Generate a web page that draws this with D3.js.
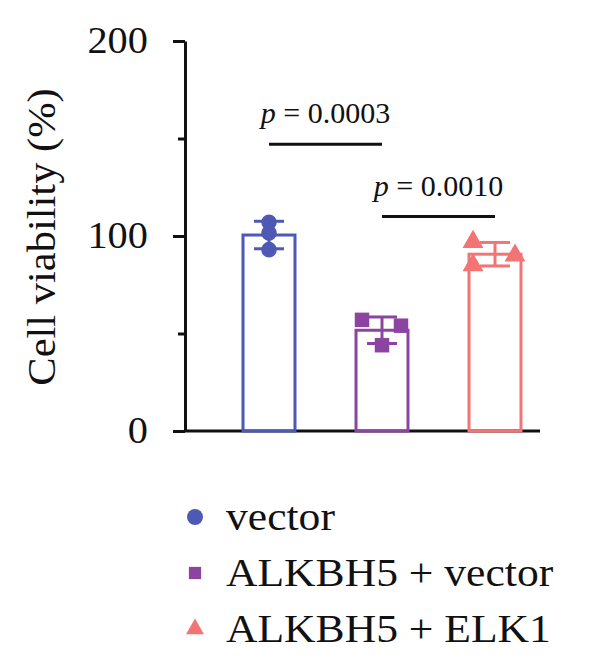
<!DOCTYPE html>
<html>
<head>
<meta charset="utf-8">
<script src="https://cdn.jsdelivr.net/npm/d3@7"></script>
<style>
  body { margin: 0; background: #fff; }
</style>
</head>
<body>
<svg id="drawing_region"></svg>
<script>
// data
var groups = ["vector", "ALKBH5 + vector", "ALKBH5 + ELK1"];
var replicates = [[107, 101.5, 93], [57, 54, 44], [97, 90, 85]];
var colors = ["#4d59b3", "#8b44a0", "#f37474"];
var yTicks = [0, 100, 200];
var yMinorTicks = [50, 150];
var comparisons = [
  {from: 0, to: 1, level: 147, p: "0.0003"},
  {from: 1, to: 2, level: 110, p: "0.0010"}
];

var serif = '"Liberation Serif", "DejaVu Serif", serif';
var stretch = 1.09;   // the figure's serif face runs a little wider than Times
var width = 600, height = 664;
var svg = d3.select('#drawing_region')
    .attr('width', width)
    .attr('height', height)
    .style('font-family', serif);

// scales
var yscale = d3.scaleLinear().domain([0, 200]).range([431, 41]);
var xscale = d3.scaleBand()
    .domain(groups)
    .range([212.5, 551.5])
    .paddingInner(0.54)
    .paddingOuter(0.27);

var stats = replicates.map((vals, i) => ({
  name: groups[i],
  vals: vals,
  mean: d3.mean(vals),
  sd: d3.deviation(vals),
  color: colors[i]
}));

// y axis (major with labels, minor without)
var yaxis = d3.axisLeft(yscale).tickValues(yTicks).tickSize(12).tickSizeOuter(0).tickPadding(22);
var yg = svg.append('g').attr('transform', 'translate(185,0)').call(yaxis)
    .attr('font-family', serif).attr('font-size', 37);
yg.selectAll('text').attr('fill', '#111').attr('transform', `scale(${stretch},1)`);
var ym = svg.append('g').attr('transform', 'translate(185,0)')
    .call(d3.axisLeft(yscale).tickValues(yMinorTicks).tickSize(7).tickSizeOuter(0).tickFormat(''));
svg.selectAll('.domain, .tick line').attr('stroke', '#111').attr('stroke-width', 3);
ym.select('.domain').remove();

// x axis line
svg.append('line')
    .attr('x1', 185).attr('x2', 540)
    .attr('y1', yscale(0)).attr('y2', yscale(0))
    .attr('stroke', '#111').attr('stroke-width', 3);

// bars
svg.selectAll('rect.bar').data(stats).enter()
  .append('rect').attr('class', 'bar')
    .attr('x', d => xscale(d.name))
    .attr('y', d => yscale(d.mean))
    .attr('width', xscale.bandwidth())
    .attr('height', d => yscale(0) - yscale(d.mean))
    .attr('fill', 'none')
    .attr('stroke', d => d.color)
    .attr('stroke-width', 3);

// error bars
var capHalf = 15;
stats.forEach(d => {
  var cx = xscale(d.name) + xscale.bandwidth() / 2;
  var g = svg.append('g').attr('stroke', d.color).attr('stroke-width', 3);
  g.append('line').attr('x1', cx).attr('x2', cx)
    .attr('y1', yscale(d.mean - d.sd)).attr('y2', yscale(d.mean + d.sd));
  [d.mean - d.sd, d.mean + d.sd].forEach(v => {
    g.append('line').attr('x1', cx - capHalf).attr('x2', cx + capHalf)
      .attr('y1', yscale(v)).attr('y2', yscale(v));
  });
});

// points (horizontal spread like a scatter dot plot)
var spread = [[0, 0, 0], [-20, 19, 0], [-22, 20, -22]];
var shapes = [d3.symbolCircle, d3.symbolSquare, d3.symbolTriangle];
var sizes = [190, 210, 190];
stats.forEach((d, i) => {
  var cx = xscale(d.name) + xscale.bandwidth() / 2;
  svg.selectAll(null).data(d.vals).enter()
    .append('path')
      .attr('d', d3.symbol().type(shapes[i]).size(sizes[i]))
      .attr('transform', (v, j) => `translate(${cx + spread[i][j]}, ${yscale(v)})`)
      .attr('fill', d.color);
});

// significance brackets
comparisons.forEach(c => {
  var x1 = xscale(groups[c.from]) + xscale.bandwidth() / 2;
  var x2 = xscale(groups[c.to]) + xscale.bandwidth() / 2;
  var yy = yscale(c.level);
  svg.append('line').attr('x1', x1).attr('x2', x2).attr('y1', yy).attr('y2', yy)
    .attr('stroke', '#111').attr('stroke-width', 3);
  var t = svg.append('text')
    .attr('x', (x1 + x2) / 2).attr('y', yy - 21)
    .attr('text-anchor', 'middle')
    .attr('fill', '#111')
    .style('font-family', serif)
    .style('font-size', '30px');
  t.append('tspan').style('font-style', 'italic').text('p');
  t.append('tspan').text(' = ' + c.p);
});

// y title
svg.append('text')
    .attr('transform', `translate(55,237) rotate(-90) scale(${stretch},1)`)
    .attr('text-anchor', 'middle')
    .attr('fill', '#111')
    .style('font-family', serif)
    .style('font-size', '39px')
    .text('Cell viability (%)');

// legend
var legend = svg.append('g').attr('transform', 'translate(195,517)');
groups.forEach((name, i) => {
  var row = legend.append('g').attr('transform', `translate(0, ${i * 56})`);
  row.append('path')
    .attr('d', d3.symbol().type(shapes[i]).size([200, 150, 140][i]))
    .attr('fill', colors[i]);
  row.append('text')
    .attr('transform', `translate(31,13) scale(${stretch},1)`)
    .attr('fill', '#111')
    .style('font-family', serif)
    .style('font-size', '40px')
    .text(name);
});
</script>
</body>
</html>
